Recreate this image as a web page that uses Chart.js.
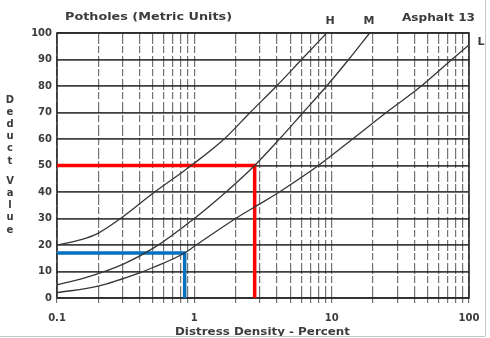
<!DOCTYPE html>
<html>
<head>
<meta charset="utf-8">
<script src="https://cdn.jsdelivr.net/npm/chart.js@4.4.1/dist/chart.umd.min.js"></script>
<style>
  html, body { margin: 0; padding: 0; background: #fff; }
  canvas { display: block; }
</style>
</head>
<body>
<canvas id="chart" width="490" height="338"></canvas>
<script>
// Pothole deduct value curves, metric units (asphalt chart 13)
const TITLE = 'Potholes (Metric Units)';
const SUBTITLE = 'Asphalt 13';
const X_TITLE = 'Distress Density - Percent';
const Y_TITLE = 'Deduct Value';

// Log-cycle grid positions and the labelled decades
const X_GRID = [0.1, 0.2, 0.3, 0.4, 0.5, 0.6, 0.7, 0.8, 0.9,
                1, 2, 3, 4, 5, 6, 7, 8, 9,
                10, 20, 30, 40, 50, 60, 70, 80, 90, 100];
const X_LABELS = [0.1, 1, 10, 100];
const Y_TICKS = [0, 10, 20, 30, 40, 50, 60, 70, 80, 90, 100];

// Severity curves: density (%) and deduct value
const H_DENSITY = [0.1, 0.15, 0.2, 0.29, 0.5, 0.95, 1.65, 2.55, 3.97, 6.04, 9.2];
const H_VALUE   = [20, 22, 24.5, 30, 39.5, 50, 60, 70, 80, 90, 100];

const M_DENSITY = [0.1, 0.157, 0.31, 0.51, 1, 1.7, 2.75, 4.17, 6.2, 9.2, 13.3, 18.9];
const M_VALUE   = [5, 7.5, 13, 19, 30, 40, 50, 60, 70, 80, 90, 100];

const L_DENSITY = [0.1, 0.2, 0.4, 0.5, 0.85, 1, 2, 3, 4.3, 8, 14.2, 25, 45, 75, 100];
const L_VALUE   = [2, 4.5, 9.5, 11.5, 17, 19.5, 30, 35.5, 40.5, 50, 60, 70, 80, 90, 95.5];

// Worked readings drawn over the curves
const RED_DENSITY  = [0.1, 2.75, 2.75];
const RED_VALUE    = [50, 50, 0];
const BLUE_DENSITY = [0.1, 0.85, 0.85];
const BLUE_VALUE   = [17, 17, 0];

const toPoints = (xs, ys) => xs.map((x, i) => ({ x, y: ys[i] }));

const INK = '#3c3c3c';
const FONT = '"DejaVu Sans", "Liberation Sans", sans-serif';

function fitText(ctx, text, x, y, width) {
  const m = ctx.measureText(text).width;
  ctx.save();
  ctx.translate(x, y);
  ctx.scale(width / m, 1);
  ctx.fillText(text, 0, 0);
  ctx.restore();
}

const decorations = {
  id: 'decorations',
  beforeDatasetsDraw(chart) {
    const { ctx, chartArea: a } = chart;
    ctx.save();
    ctx.strokeStyle = '#2a2a2a';
    ctx.lineWidth = 1.6;
    ctx.strokeRect(a.left, a.top, a.right - a.left, a.bottom - a.top);
    ctx.restore();
  },
  afterDraw(chart) {
    const { ctx } = chart;
    ctx.save();
    ctx.fillStyle = INK;
    ctx.textBaseline = 'middle';
    ctx.textAlign = 'left';
    ctx.font = 'bold 11px ' + FONT;
    fitText(ctx, TITLE, 65, 17, 167);
    fitText(ctx, SUBTITLE, 402, 18, 73);
    ctx.font = 'bold 10.5px ' + FONT;
    fitText(ctx, X_TITLE, 175, 332, 175);
    ctx.textAlign = 'center';
    ctx.font = 'bold 11px ' + FONT;
    ctx.fillText('H', 330, 21);
    ctx.fillText('M', 369, 21);
    ctx.fillText('L', 481, 42);
    ctx.font = 'bold 10px ' + FONT;
    let y = 100;
    for (const ch of Y_TITLE) {
      if (ch === ' ') { y += 8; continue; }
      ctx.fillText(ch, 10, y);
      y += 12.2;
    }
    // sheet edge
    ctx.strokeStyle = '#c8c8c8';
    ctx.lineWidth = 1;
    ctx.beginPath();
    ctx.moveTo(485.5, 0); ctx.lineTo(485.5, 336.5); ctx.lineTo(0, 336.5);
    ctx.stroke();
    ctx.restore();
  }
};

const curve = (label, xs, ys) => ({
  label, data: toPoints(xs, ys),
  borderColor: '#363636', borderWidth: 1.3,
  pointRadius: 0, cubicInterpolationMode: 'monotone', fill: false
});
const reading = (label, xs, ys, color) => ({
  label, data: toPoints(xs, ys),
  borderColor: color, borderWidth: 3.5, borderJoinStyle: 'miter',
  pointRadius: 0, tension: 0, fill: false, clip: 4
});

new Chart(document.getElementById('chart'), {
  type: 'line',
  data: {
    datasets: [
      curve('H', H_DENSITY, H_VALUE),
      curve('M', M_DENSITY, M_VALUE),
      curve('L', L_DENSITY, L_VALUE),
      reading('50', RED_DENSITY, RED_VALUE, '#ff0000'),
      reading('17', BLUE_DENSITY, BLUE_VALUE, '#0070c0')
    ]
  },
  options: {
    responsive: false,
    devicePixelRatio: 1,
    animation: false,
    layout: { padding: { left: 0, right: 21, top: 33, bottom: 0 } },
    plugins: { legend: { display: false }, tooltip: { enabled: false } },
    scales: {
      x: {
        type: 'logarithmic',
        min: 0.1, max: 100,
        afterFit: s => { s.height = 40; },
        afterBuildTicks: s => { s.ticks = X_GRID.map(v => ({ value: v })); },
        grid: { color: 'rgba(30,30,30,0.62)', lineWidth: 1.2, tickLength: 5, drawTicks: true },
        border: { display: false, dash: [11, 2, 7, 3] },
        ticks: {
          autoSkip: false, maxRotation: 0, padding: 9,
          color: INK, font: { family: FONT, size: 10, weight: 'bold' },
          callback: v => X_LABELS.includes(v) ? String(v) : ''
        }
      },
      y: {
        min: 0, max: 100,
        afterFit: s => { s.width = 57; },
        afterBuildTicks: s => { s.ticks = Y_TICKS.map(v => ({ value: v })); },
        grid: { color: 'rgba(30,30,30,0.85)', lineWidth: 1.8, drawTicks: false },
        border: { display: false },
        ticks: {
          padding: 5, color: INK,
          font: { family: FONT, size: 10, weight: 'bold' }
        }
      }
    }
  },
  plugins: [decorations]
});
</script>
</body>
</html>
